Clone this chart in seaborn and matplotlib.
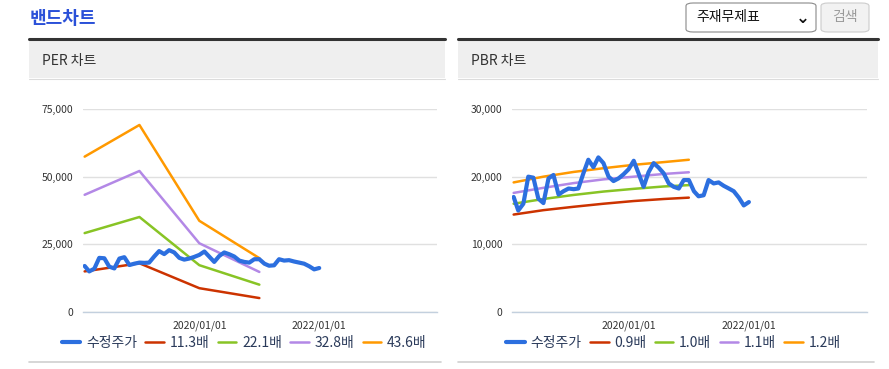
import pandas as pd
import seaborn as sns
import matplotlib.pyplot as plt
from matplotlib.patches import Rectangle, FancyBboxPatch
from matplotlib.lines import Line2D

# 수정주가 (월별, 2018/02 ~ 2022/01)
price = [17000, 15000, 16000, 20000, 19850, 16750, 16100, 19750, 20250, 17350,
         17850, 18250, 18150, 18250, 20500, 22500, 21400, 22850, 22000, 20000,
         19350, 19750, 20350, 21100, 22350, 20500, 18500, 20650, 22000, 21350,
         20500, 19000, 18500, 18250, 19500, 19500, 17850, 17100, 17250, 19500,
         19000, 19150, 18650, 18250, 17850, 16900, 15750, 16250]
price_dates = pd.date_range('2018-02-01', periods=len(price), freq='MS')

# PER 밴드
per_dates = pd.to_datetime(['2018-02-01', '2019-01-01', '2020-01-01', '2021-01-01'])
per_labels = ['11.3배', '22.1배', '32.8배', '43.6배']
per_113 = [15000, 18000, 8800, 5150]
per_221 = [29150, 35100, 17300, 10100]
per_328 = [43300, 52100, 25400, 14800]
per_436 = [57400, 69100, 33700, 19900]

# PBR 밴드
pbr_dates = pd.to_datetime(['2018-02-01', '2018-08-01', '2019-02-01', '2019-08-01',
                            '2020-02-01', '2020-08-01', '2021-01-01'])
pbr_labels = ['0.9배', '1.0배', '1.1배', '1.2배']
pbr_09 = [14400, 15050, 15550, 16000, 16400, 16700, 16900]
pbr_10 = [16000, 16700, 17300, 17800, 18200, 18550, 18750]
pbr_11 = [17600, 18350, 19050, 19600, 20000, 20400, 20650]
pbr_12 = [19150, 20000, 20700, 21250, 21750, 22150, 22500]

band_colors = ['#cc3300', '#88c425', '#b388e6', '#ff9900']
price_color = '#2c6fdf'

sns.set_style('white')
plt.rcParams['font.family'] = ['Noto Sans CJK KR', 'DejaVu Sans']

W, H = 889, 369
fig = plt.figure(figsize=(W / 100, H / 100), dpi=100)


def px(x, y, w, h):
    return [x / W, 1 - (y + h) / H, w / W, h / H]


# 상단 제목 / 선택박스 / 버튼
fig.text(30 / W, 1 - 18 / H, '밴드차트', color='#2a50d8', fontsize=13,
         fontweight='bold', va='center', ha='left')
fig.patches.append(FancyBboxPatch((686 / W, 1 - 32 / H), 130 / W, 29 / H,
                                  boxstyle='round,pad=0,rounding_size=0.008',
                                  transform=fig.transFigure, facecolor='white',
                                  edgecolor='#8a8a8a', linewidth=0.8))
fig.text(696 / W, 1 - 17 / H, '주재무제표', fontsize=10, color='#111',
         va='center', ha='left')
fig.text(803 / W, 1 - 18 / H, '⌄', fontsize=12, color='#111',
         va='center', ha='center', fontweight='bold')
fig.patches.append(FancyBboxPatch((821 / W, 1 - 32 / H), 48 / W, 29 / H,
                                  boxstyle='round,pad=0,rounding_size=0.008',
                                  transform=fig.transFigure, facecolor='#f2f2f2',
                                  edgecolor='#cccccc', linewidth=0.8))
fig.text(845 / W, 1 - 17 / H, '검색', fontsize=10, color='#9a9a9a',
         va='center', ha='center')

panels = [(29, 445, 'PER 차트'), (458, 878, 'PBR 차트')]
for x0, x1, name in panels:
    fig.patches.append(Rectangle((x0 / W, 1 - 78 / H), (x1 - x0) / W, 38 / H,
                                 transform=fig.transFigure, facecolor='#efefef',
                                 edgecolor='none'))
    fig.lines.append(Line2D([x0 / W, x1 / W], [1 - 39 / H] * 2, color='#333333',
                            linewidth=2.2, transform=fig.transFigure))
    fig.lines.append(Line2D([x0 / W, x1 / W], [1 - 78.5 / H] * 2, color='#dcdcdc',
                            linewidth=0.8, transform=fig.transFigure))
    fig.lines.append(Line2D([x0 / W, (x1 - 4) / W], [1 - 362 / H] * 2,
                            color='#cfcfcf', linewidth=1.2,
                            transform=fig.transFigure))
    fig.text((x0 + 13) / W, 1 - 61 / H, name, fontsize=10, color='#333',
             va='center', ha='left')

ax1 = fig.add_axes(px(83, 109, 354, 203))
ax2 = fig.add_axes(px(512, 109, 355, 203))

charts = [
    (ax1, per_dates, [per_113, per_221, per_328, per_436], per_labels,
     75000, [0, 25000, 50000, 75000]),
    (ax2, pbr_dates, [pbr_09, pbr_10, pbr_11, pbr_12], pbr_labels,
     30000, [0, 10000, 20000, 30000]),
]

for ax, bdates, bands, labels, ymax, yticks in charts:
    sns.lineplot(x=price_dates, y=price, ax=ax, color=price_color,
                 linewidth=3.0, label='수정주가', zorder=5)
    for vals, lab, col in zip(bands, labels, band_colors):
        sns.lineplot(x=bdates, y=vals, ax=ax, color=col, linewidth=1.8,
                     label=lab, zorder=3)
    ax.set_xlim(pd.Timestamp('2018-01-22'), pd.Timestamp('2023-12-20'))
    ax.set_ylim(0, ymax)
    ax.set_yticks(yticks)
    ax.set_yticklabels([f'{v:,}' for v in yticks])
    ax.set_xticks(pd.to_datetime(['2020-01-01', '2022-01-01']))
    ax.set_xticklabels(['2020/01/01', '2022/01/01'])
    ax.set_xlabel('')
    ax.set_ylabel('')
    for s in ['left', 'right', 'top']:
        ax.spines[s].set_visible(False)
    ax.spines['bottom'].set_color('#c3d0de')
    ax.spines['bottom'].set_linewidth(1.0)
    ax.spines['bottom'].set_zorder(1)
    ax.yaxis.grid(True, color='#e0e0e0', linewidth=1.0)
    ax.set_axisbelow(True)
    ax.tick_params(axis='y', length=0, pad=7, labelsize=7.5, labelcolor='#333')
    ax.tick_params(axis='x', length=5, width=1, color='#c3d0de', pad=1,
                   labelsize=7.5, labelcolor='#333')
    ax.set_facecolor('white')
    ax.legend(loc='center', bbox_to_anchor=(0.455, -0.153), ncol=5,
              frameon=False, fontsize=10, handlelength=1.35,
              handletextpad=0.4, columnspacing=0.6, borderaxespad=0,
              labelcolor='#2a3a5a')

fig.savefig('out.png', dpi=100, facecolor='white')
